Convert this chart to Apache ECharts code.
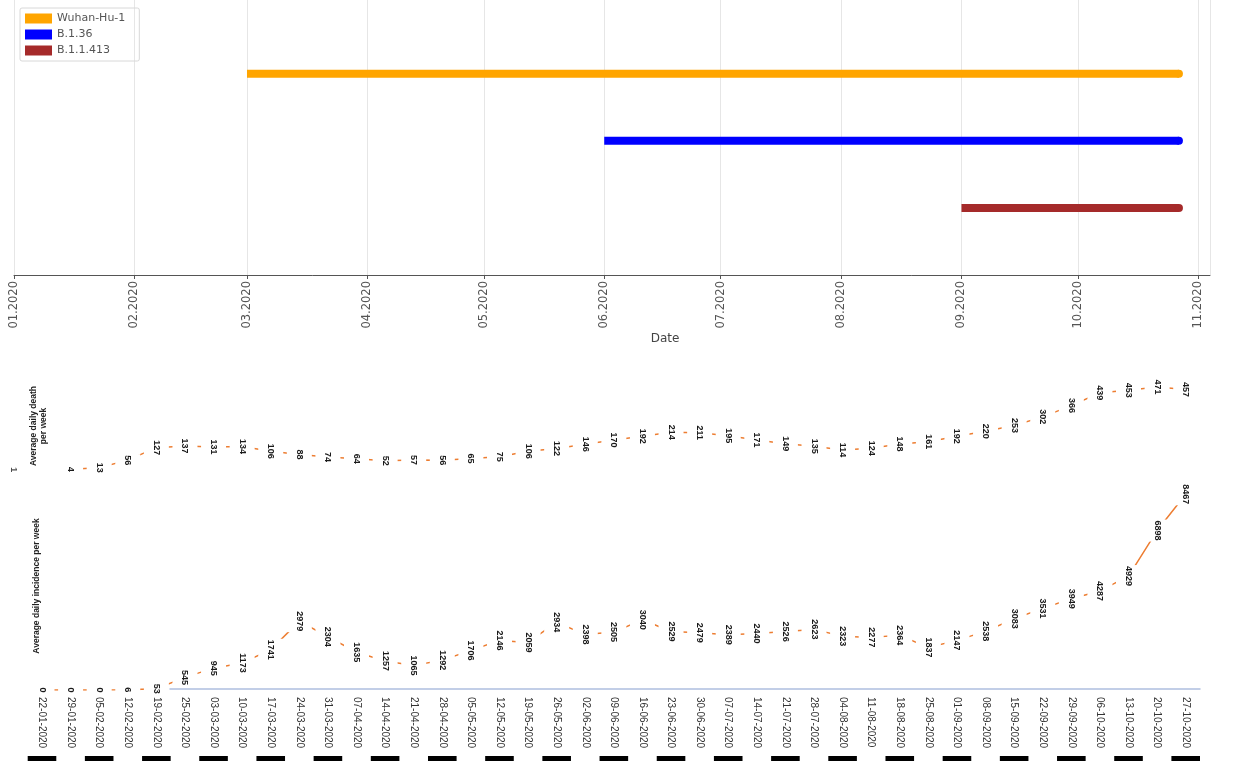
<!DOCTYPE html>
<html>
<head>
<meta charset="utf-8">
<script src="https://cdn.jsdelivr.net/npm/echarts@6/dist/echarts.min.js"></script>
<style>
  html, body { margin: 0; padding: 0; background: #fff; }
  #chart { width: 1236px; height: 764px; }
</style>
</head>
<body>
<div id="chart"></div>
<script>
// Lineages and the period each one circulated
const variants = ['Wuhan-Hu-1', 'B.1.36', 'B.1.1.413'];
const variantStart = ['2020-03-01', '2020-06-01', '2020-09-01'];
const variantEnd = ['2020-10-27', '2020-10-27', '2020-10-27'];
const variantColors = ['#ffa500', '#0000ff', '#a52a2a'];

// Weekly epidemiological series
const weeks = [
  '22-01-2020', '29-01-2020', '05-02-2020', '12-02-2020', '19-02-2020', '25-02-2020',
  '03-03-2020', '10-03-2020', '17-03-2020', '24-03-2020', '31-03-2020',
  '07-04-2020', '14-04-2020', '21-04-2020', '28-04-2020',
  '05-05-2020', '12-05-2020', '19-05-2020', '26-05-2020',
  '02-06-2020', '09-06-2020', '16-06-2020', '23-06-2020', '30-06-2020',
  '07-07-2020', '14-07-2020', '21-07-2020', '28-07-2020',
  '04-08-2020', '11-08-2020', '18-08-2020', '25-08-2020',
  '01-09-2020', '08-09-2020', '15-09-2020', '22-09-2020', '29-09-2020',
  '06-10-2020', '13-10-2020', '20-10-2020', '27-10-2020'
];
const deaths = [
  1, 4, 13, 56, 127, 137, 131, 134, 106, 88, 74, 64, 52, 57, 56, 65, 75, 106, 122, 146,
  170, 192, 214, 211, 195, 171, 149, 135, 114, 124, 148, 161, 192, 220, 253, 302, 366,
  439, 453, 471, 457
];
const incidence = [
  0, 0, 0, 6, 53, 545, 945, 1173, 1741, 2979, 2304, 1635, 1257, 1065, 1292, 1706, 2146,
  2059, 2934, 2398, 2505, 3040, 2529, 2479, 2389, 2440, 2526, 2623, 2323, 2277, 2364,
  1837, 2147, 2538, 3083, 3531, 3949, 4287, 4929, 6898, 8467
];

const W = 1236;
const weekLeft = 27.7, weekRight = 36;
const band = (W - weekLeft - weekRight) / weeks.length;
const lineColor = '#ed7d31';
const narrow = '"Liberation Sans Narrow", "Liberation Sans", Arial, sans-serif';

const chart = echarts.init(document.getElementById('chart'), null, { renderer: 'canvas' });

// value labels sit on the points, turned to read downwards, boxed in white
const valueLabel = {
  show: true,
  position: 'inside',
  rotate: -90,
  fontSize: 9,
  fontWeight: 'bold',
  fontFamily: narrow,
  color: '#1a1a1a',
  backgroundColor: '#ffffff',
  padding: [8, 1]
};

// lineage timeline bars
const variantSeries = variants.map((name, i) => ({
  type: 'line',
  name: name,
  xAxisIndex: 0,
  yAxisIndex: 0,
  color: variantColors[i],
  lineStyle: { width: 8, color: variantColors[i], cap: 'butt' },
  itemStyle: { color: variantColors[i] },
  silent: true,
  data: [
    { value: [variantStart[i], variants.length - i], symbol: 'none' },
    { value: [variantEnd[i], variants.length - i], symbol: 'circle', symbolSize: 8 }
  ]
}));

// the death curve starts at the second week; the first week's value is
// labelled on its own, set one week left of the axis title
const deathCurve = deaths.map((v, i) => (i === 0 ? '-' : v));
const deathFirst = [[weeks[0], deaths[0]]];

const option = {
  animation: false,
  backgroundColor: '#ffffff',
  legend: {
    data: variants,
    orient: 'vertical',
    left: 20,
    top: 8,
    icon: 'rect',
    itemWidth: 27,
    itemHeight: 10,
    itemGap: 5,
    padding: [5, 14, 5, 5],
    borderColor: '#d8d8d8',
    borderWidth: 1,
    borderRadius: 2,
    textStyle: { fontSize: 11, color: '#555', fontFamily: 'DejaVu Sans' }
  },
  grid: [
    { left: 14, right: 26, top: 0, bottom: 489 },
    { left: weekLeft, right: weekRight, top: 382, bottom: 294 },
    { left: weekLeft, right: weekRight, top: 482, bottom: 74 },
    { left: 170, right: weekRight, top: 680, bottom: 75 },
    { left: weekLeft, right: weekRight, top: 750, bottom: 6 }
  ],
  xAxis: [
    {
      type: 'time', gridIndex: 0,
      min: '2020-01-01', max: '2020-11-04',
      splitNumber: 10,
      minInterval: 28 * 86400000,
      maxInterval: 31 * 86400000,
      name: 'Date', nameLocation: 'middle', nameGap: 57,
      nameTextStyle: { fontSize: 12, color: '#444', fontFamily: 'DejaVu Sans', padding: [0, 0, 0, 106] },
      axisLine: { lineStyle: { color: '#555', width: 1 } },
      axisTick: { show: true, length: 4, lineStyle: { color: '#555' } },
      axisLabel: {
        rotate: 90, fontSize: 11.5, color: '#555', fontFamily: 'DejaVu Sans', margin: 6,
        showMaxLabel: false,
        formatter: (v) => {
          const d = new Date(v);
          return String(d.getMonth() + 1).padStart(2, '0') + '.' + d.getFullYear();
        }
      },
      splitLine: { show: true, lineStyle: { color: '#e6e6e6', width: 1 } }
    },
    {
      type: 'category', gridIndex: 1, data: weeks, boundaryGap: true,
      axisLine: { show: false }, axisTick: { show: false }, axisLabel: { show: false }, splitLine: { show: false }
    },
    {
      type: 'category', gridIndex: 2, data: weeks, boundaryGap: true,
      axisLine: { show: false }, axisTick: { show: false },
      axisLabel: {
        rotate: -90, fontSize: 10, color: '#333', fontFamily: narrow, margin: 7, interval: 0
      },
      splitLine: { show: false }
    },
    {
      type: 'value', gridIndex: 3, min: 0, max: 1,
      axisLine: { show: true, onZero: false, lineStyle: { color: '#aebfdf', width: 1.5 } },
      axisTick: { show: false }, axisLabel: { show: false }, splitLine: { show: false }
    },
    {
      type: 'category', gridIndex: 4, data: weeks, boundaryGap: true,
      axisLine: {
        show: true,
        lineStyle: { color: '#000', width: 5, type: [band, band], dashOffset: 0, cap: 'butt' }
      },
      axisTick: { show: false }, axisLabel: { show: false }, splitLine: { show: false }
    }
  ],
  yAxis: [
    { type: 'value', gridIndex: 0, min: 0, max: 4.1, show: false },
    {
      type: 'value', gridIndex: 1, min: 0, max: 500,
      name: 'Average daily death\nper week', nameLocation: 'middle', nameRotate: 90, nameGap: -21,
      nameTextStyle: { fontSize: 8.5, fontWeight: 'bold', color: '#222', fontFamily: narrow, lineHeight: 10 },
      axisLine: { show: false }, axisTick: { show: false }, axisLabel: { show: false }, splitLine: { show: false }
    },
    {
      type: 'value', gridIndex: 2, min: 0, max: 9000,
      name: 'Average daily incidence per week', nameLocation: 'middle', nameRotate: 90, nameGap: -13,
      nameTextStyle: { fontSize: 8.5, fontWeight: 'bold', color: '#222', fontFamily: narrow },
      axisLine: { show: false }, axisTick: { show: false }, axisLabel: { show: false }, splitLine: { show: false }
    },
    { type: 'value', gridIndex: 3, min: 0, max: 1, show: false },
    { type: 'value', gridIndex: 4, min: 0, max: 1, show: false }
  ],
  series: variantSeries.concat([
    {
      type: 'line', name: 'Average daily death per week',
      xAxisIndex: 1, yAxisIndex: 1,
      data: deathCurve,
      symbol: 'circle', symbolSize: 1,
      itemStyle: { color: lineColor },
      lineStyle: { color: lineColor, width: 1.5 },
      label: valueLabel,
      silent: true
    },
    {
      type: 'scatter', name: 'Average daily death per week (first week)',
      xAxisIndex: 1, yAxisIndex: 1,
      data: deathFirst,
      symbolSize: 0.01,
      itemStyle: { color: '#ffffff' },
      label: Object.assign({}, valueLabel, { offset: [0, band] }),
      silent: true
    },
    {
      type: 'line', name: 'Average daily incidence per week',
      xAxisIndex: 2, yAxisIndex: 2,
      data: incidence,
      symbol: 'circle', symbolSize: 1,
      itemStyle: { color: lineColor },
      lineStyle: { color: lineColor, width: 1.5 },
      label: valueLabel,
      silent: true
    }
  ])
};

chart.setOption(option);
</script>
</body>
</html>
